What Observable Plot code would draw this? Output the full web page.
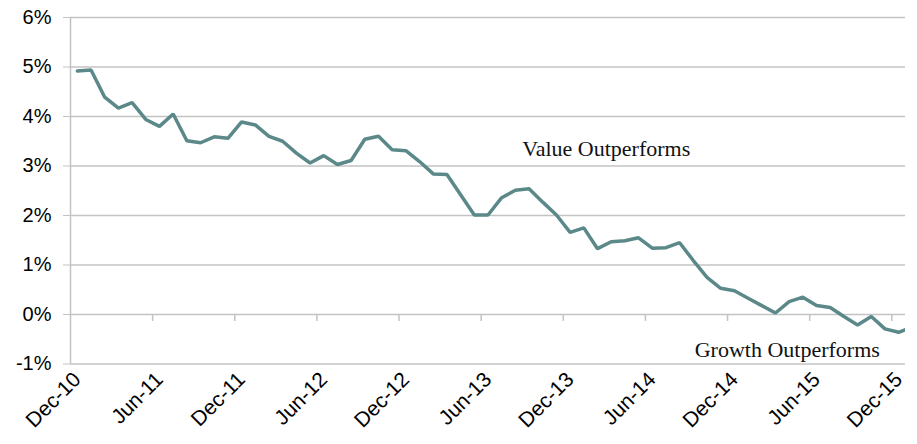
<!DOCTYPE html>
<html>
<head>
<meta charset="utf-8">
<script src="https://cdn.jsdelivr.net/npm/d3@7"></script>
<script src="https://cdn.jsdelivr.net/npm/@observablehq/plot@0.6"></script>
<style>
  html, body { margin: 0; padding: 0; background: #fff; }
  #chart { width: 917px; height: 444px; }
</style>
</head>
<body>
<div id="chart"></div>
<script>
// Monthly spread (%), Dec-10 onward
const values = [
  4.92, 4.94, 4.39, 4.17, 4.28, 3.94, 3.80, 4.05, 3.51, 3.47,
  3.59, 3.56, 3.89, 3.83, 3.60, 3.50, 3.26, 3.06, 3.21, 3.03,
  3.11, 3.54, 3.60, 3.33, 3.31, 3.09, 2.84, 2.83, 2.42, 2.01,
  2.01, 2.36, 2.51, 2.54, 2.27, 2.01, 1.66, 1.75, 1.33, 1.47,
  1.49, 1.55, 1.34, 1.35, 1.45, 1.09, 0.75, 0.53, 0.48, 0.33,
  0.18, 0.03, 0.26, 0.35, 0.18, 0.14, -0.04, -0.21, -0.04, -0.29,
  -0.36, -0.25
];
const tickLabels = ["Dec-10","Jun-11","Dec-11","Jun-12","Dec-12","Jun-13","Dec-13","Jun-14","Dec-14","Jun-15","Dec-15"];
const yTicks = [-1, 0, 1, 2, 3, 4, 5, 6];
const annotations = [
  {text: "Value Outperforms", x: 32.5, y: 3.35},
  {text: "Growth Outperforms", x: 45.1, y: -0.72}
];

const data = values.map((v, i) => ({i, v}));
const labelPositions = tickLabels.map((_, k) => k * 6);
const boundaries = d3.range(0, 11).map(k => k * 6 - 0.5);
const gridColor = "#c3c3c3";

const chart = Plot.plot({
  width: 917,
  height: 444,
  marginLeft: 70,
  marginRight: 12,
  marginTop: 17,
  marginBottom: 80.5,
  style: {fontFamily: "'Liberation Sans', Arial, sans-serif", background: "#fff", color: "#000"},
  x: {domain: [-0.5, 60.5], axis: null},
  y: {domain: [-1, 6], axis: null},
  marks: [
    Plot.gridY(yTicks, {stroke: gridColor, strokeOpacity: 1, strokeWidth: 1.5}),
    Plot.ruleX([-0.5], {stroke: gridColor, strokeWidth: 1.5}),
    Plot.ruleX(boundaries.slice(1), {y1: 0, y2: -0.14, stroke: gridColor, strokeWidth: 1.5}),
    Plot.axisY(yTicks, {
      anchor: "left", tickSize: 7, tickPadding: 12, stroke: gridColor, fill: "#000",
      fontSize: 20, tickFormat: d => d + "%"
    }),
    Plot.axisX(labelPositions, {
      anchor: "bottom", tickSize: 0, tickPadding: 12, tickRotate: -45, fill: "#000",
      fontSize: 21, tickFormat: d => tickLabels[d / 6]
    }),
    Plot.line(data, {x: "i", y: "v", stroke: "#5b8888", strokeWidth: 3.5, clip: true, strokeLinejoin: "miter"}),
    Plot.text(annotations, {
      x: "x", y: "y", text: "text", textAnchor: "start",
      fontFamily: "'Liberation Serif', 'Times New Roman', serif", fontSize: 22, fill: "#111"
    })
  ]
});
document.getElementById("chart").appendChild(chart);
</script>
</body>
</html>
